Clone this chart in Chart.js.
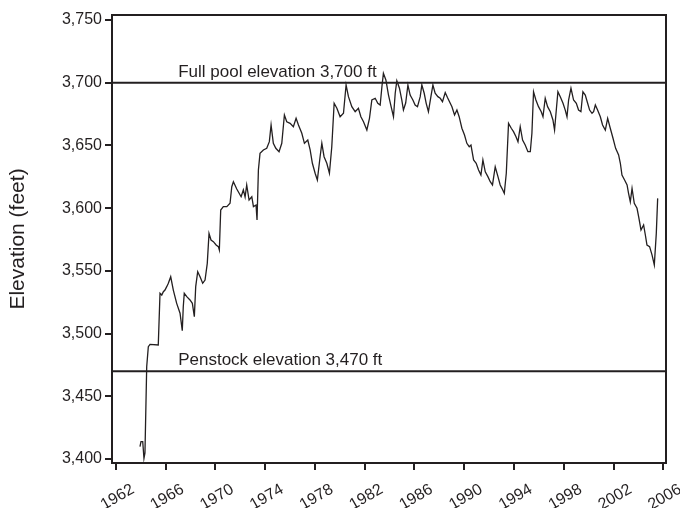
<!DOCTYPE html>
<html>
<head>
<meta charset="utf-8">
<script src="https://cdn.jsdelivr.net/npm/chart.js@4/dist/chart.umd.min.js"></script>
<style>
  html, body { margin: 0; padding: 0; background: #fff; }
  #wrap { width: 680px; height: 508px; }
</style>
</head>
<body>
<div id="wrap"><canvas id="c" width="680" height="508"></canvas></div>
<script>
// Lake elevation record, decimal years vs. feet
const years = [
  1963.93, 1964.01, 1964.15, 1964.25, 1964.33, 1964.47, 1964.60, 1964.74, 1965.40, 1965.54,
  1965.68, 1965.81, 1965.94, 1966.08, 1966.21, 1966.40, 1966.61, 1966.88, 1967.15, 1967.33,
  1967.41, 1967.49, 1967.69, 1967.95, 1968.14, 1968.30, 1968.41, 1968.57, 1968.76, 1968.97,
  1969.16, 1969.34, 1969.48, 1969.64, 1969.83, 1970.05, 1970.23, 1970.31, 1970.42, 1970.63,
  1970.91, 1971.17, 1971.31, 1971.44, 1971.71, 1972.06, 1972.24, 1972.38, 1972.51, 1972.70,
  1972.92, 1973.05, 1973.26, 1973.34, 1973.45, 1973.58, 1973.85, 1974.12, 1974.33, 1974.47,
  1974.65, 1974.85, 1975.11, 1975.33, 1975.54, 1975.73, 1976.00, 1976.26, 1976.48, 1976.67,
  1976.94, 1977.15, 1977.42, 1977.61, 1977.79, 1978.01, 1978.19, 1978.41, 1978.55, 1978.73,
  1978.95, 1979.16, 1979.35, 1979.54, 1979.76, 1980.02, 1980.29, 1980.50, 1980.69, 1980.96,
  1981.23, 1981.49, 1981.69, 1981.90, 1982.17, 1982.38, 1982.57, 1982.84, 1983.05, 1983.24,
  1983.38, 1983.50, 1983.70, 1983.91, 1984.12, 1984.31, 1984.45, 1984.58, 1984.79, 1984.98,
  1985.11, 1985.29, 1985.47, 1985.65, 1985.87, 1986.05, 1986.24, 1986.46, 1986.59, 1986.78,
  1986.94, 1987.12, 1987.32, 1987.48, 1987.66, 1987.88, 1988.07, 1988.25, 1988.47, 1988.65,
  1989.01, 1989.22, 1989.41, 1989.59, 1989.81, 1990.02, 1990.21, 1990.40, 1990.54, 1990.75,
  1990.96, 1991.15, 1991.34, 1991.50, 1991.69, 1991.90, 1992.09, 1992.27, 1992.49, 1992.71,
  1992.89, 1993.03, 1993.22, 1993.38, 1993.56, 1993.78, 1993.96, 1994.16, 1994.32, 1994.50,
  1994.69, 1994.90, 1995.12, 1995.31, 1995.44, 1995.57, 1995.76, 1995.97, 1996.19, 1996.33,
  1996.51, 1996.70, 1996.92, 1997.13, 1997.26, 1997.40, 1997.53, 1997.72, 1997.94, 1998.12,
  1998.26, 1998.39, 1998.58, 1998.79, 1999.01, 1999.19, 1999.38, 1999.54, 1999.73, 1999.92,
  2000.08, 2000.27, 2000.40, 2000.54, 2000.72, 2000.94, 2001.12, 2001.34, 2001.53, 2001.74,
  2001.96, 2002.17, 2002.41, 2002.55, 2002.68, 2002.89, 2003.09, 2003.21, 2003.35, 2003.49,
  2003.67, 2003.89, 2004.02, 2004.21, 2004.42, 2004.56, 2004.69, 2004.90, 2005.10, 2005.28,
  2005.44, 2005.55
];
const elevation = [
  3409.8, 3413.8, 3413.8, 3400.5, 3404.8, 3473.6, 3489.5, 3491.4, 3490.9, 3532.1,
  3530.7, 3533.4, 3534.7, 3537.4, 3540.1, 3545.3, 3534.7, 3524.1, 3516.2, 3502.3,
  3521.4, 3532.1, 3529.4, 3526.8, 3524.1, 3513.5, 3537.4, 3549.3, 3545.3, 3540.1,
  3542.7, 3556.0, 3579.9, 3574.6, 3573.3, 3570.6, 3569.3, 3566.6, 3598.5, 3601.2,
  3601.2, 3603.9, 3617.1, 3621.1, 3615.3, 3609.1, 3614.5, 3608.9, 3618.5, 3606.5,
  3609.1, 3601.2, 3602.5, 3590.5, 3630.4, 3643.7, 3646.4, 3647.7, 3653.0, 3666.3,
  3651.7, 3647.7, 3645.0, 3651.7, 3674.3, 3668.9, 3667.6, 3664.9, 3671.6, 3666.3,
  3659.7, 3651.7, 3654.3, 3646.4, 3635.8, 3627.8, 3622.4, 3641.0, 3651.7, 3641.0,
  3635.8, 3627.8, 3649.0, 3683.6, 3679.6, 3672.9, 3675.6, 3698.2, 3688.9, 3680.9,
  3676.9, 3679.6, 3672.9, 3668.9, 3662.3, 3671.6, 3686.2, 3687.6, 3683.6, 3682.2,
  3696.8, 3707.5, 3702.2, 3690.2, 3680.9, 3672.9, 3691.6, 3701.6, 3695.6, 3686.2,
  3678.2, 3683.8, 3698.2, 3690.2, 3686.2, 3682.2, 3680.9, 3688.9, 3698.2, 3691.6,
  3683.6, 3676.9, 3688.9, 3698.2, 3691.6, 3688.9, 3687.6, 3684.9, 3692.2, 3688.2,
  3680.9, 3674.3, 3678.2, 3672.9, 3663.7, 3658.3, 3651.7, 3649.0, 3650.3, 3638.4,
  3635.8, 3630.4, 3626.4, 3638.4, 3629.0, 3625.1, 3621.1, 3618.5, 3633.0, 3625.1,
  3618.5, 3615.8, 3611.8, 3627.8, 3667.6, 3663.7, 3661.0, 3657.0, 3653.0, 3664.9,
  3654.3, 3650.3, 3645.0, 3645.0, 3659.7, 3692.8, 3686.2, 3680.9, 3676.9, 3672.9,
  3687.6, 3680.9, 3676.9, 3670.3, 3662.3, 3678.2, 3692.8, 3688.9, 3683.6, 3678.2,
  3672.9, 3686.2, 3695.6, 3686.2, 3683.6, 3678.2, 3676.9, 3692.8, 3690.2, 3683.6,
  3678.2, 3675.6, 3676.9, 3682.2, 3678.2, 3672.9, 3666.3, 3662.3, 3671.6, 3663.7,
  3655.7, 3647.7, 3642.4, 3635.8, 3626.4, 3622.4, 3618.5, 3611.8, 3605.1, 3615.8,
  3603.9, 3599.9, 3593.2, 3582.6, 3586.6, 3578.6, 3570.6, 3569.3, 3562.6, 3554.7,
  3579.9, 3607.8
];

// Reference levels and their captions
const refLevels = [3700, 3470];
const refLabels = ['Full pool elevation 3,700 ft', 'Penstock elevation 3,470 ft'];
const refLabelYear = 1967;

const xTicks = [1962, 1966, 1970, 1974, 1978, 1982, 1986, 1990, 1994, 1998, 2002, 2006];
const yTicks = [3400, 3450, 3500, 3550, 3600, 3650, 3700, 3750];
const X_MIN = 1961.68, X_MAX = 2006.22;
const Y_MIN = 3396.8, Y_MAX = 3754;

const INK = '#231f20';
const TICK_FONT = { family: "'Liberation Sans', Arial, sans-serif", size: 16 };

const series = years.map((x, i) => ({ x, y: elevation[i] }));
const refSets = refLevels.map(v => ({
  data: [{ x: X_MIN, y: v }, { x: X_MAX, y: v }],
  borderColor: INK, borderWidth: 2, pointRadius: 0, tension: 0
}));

// frame around plot + captions above the reference lines
const framePlugin = {
  id: 'frame',
  afterDatasetsDraw(chart) {
    const { ctx, chartArea: a, scales: { x, y } } = chart;
    ctx.save();
    ctx.strokeStyle = INK;
    ctx.lineWidth = 2;
    ctx.strokeRect(a.left, a.top, a.right - a.left, a.bottom - a.top);
    ctx.fillStyle = INK;
    ctx.font = "17px 'Liberation Sans', Arial, sans-serif";
    ctx.textAlign = 'left';
    ctx.textBaseline = 'alphabetic';
    refLevels.forEach((v, i) => {
      ctx.fillText(refLabels[i], x.getPixelForValue(refLabelYear), y.getPixelForValue(v) - 6);
    });
    ctx.restore();
  }
};

new Chart(document.getElementById('c'), {
  type: 'line',
  data: {
    datasets: [
      { data: series, borderColor: INK, borderWidth: 1.3, pointRadius: 0, tension: 0 },
      ...refSets
    ]
  },
  options: {
    responsive: false,
    animation: false,
    layout: { padding: { top: 15, right: 14, left: 0, bottom: 0 } },
    plugins: { legend: { display: false }, tooltip: { enabled: false } },
    scales: {
      x: {
        type: 'linear', min: X_MIN, max: X_MAX,
        afterBuildTicks: s => { s.ticks = xTicks.map(v => ({ value: v })); },
        // fixed band height; rotated labels may run off the right edge
        afterFit: s => { s.height = 45; s.paddingLeft = 0; s.paddingRight = 0; },
        border: { display: false },
        grid: { drawOnChartArea: false, drawTicks: true, tickLength: 7, lineWidth: 2, color: INK },
        ticks: {
          autoSkip: false, minRotation: 30, maxRotation: 30, padding: 10, labelOffset: 17,
          color: INK, font: TICK_FONT, callback: v => String(v)
        }
      },
      y: {
        type: 'linear', min: Y_MIN, max: Y_MAX,
        afterBuildTicks: s => { s.ticks = yTicks.map(v => ({ value: v })); },
        afterFit: s => { s.width = 112; },
        border: { display: false },
        grid: { drawOnChartArea: false, drawTicks: true, tickLength: 7, lineWidth: 2, color: INK },
        ticks: { padding: 3, color: INK, font: TICK_FONT, callback: v => v.toLocaleString('en-US') },
        title: {
          display: true, text: 'Elevation (feet)', color: INK,
          font: { family: "'Liberation Sans', Arial, sans-serif", size: 21 },
          padding: { top: 6, bottom: 0 }
        }
      }
    }
  },
  plugins: [framePlugin]
});
</script>
</body>
</html>
